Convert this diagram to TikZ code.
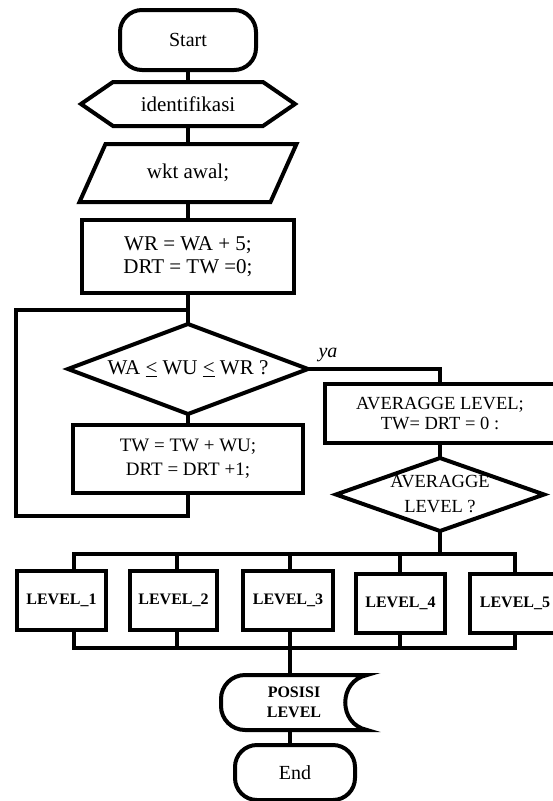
\documentclass[tikz,border=0pt]{standalone}
\usepackage{fontspec}
\setmainfont{Liberation Serif}
\usetikzlibrary{calc, positioning}
\tikzset{>=latex}

\begin{document}
\begin{tikzpicture}[x=1pt, y=1pt]

        % Setup the styles for the symbols
        \tikzset{line style/.style={line width=4pt, draw=black},
                 base style/.style={inner sep=0pt, outer sep=0pt, align=center,
                                    font=\fontsize{21}{23}\selectfont},
                 box style/.style={base style, line style, rectangle},
                 term style/.style={box style, rounded corners=22pt,
                                    font=\fontsize{20}{23}\selectfont},
                 level style/.style={box style, minimum height=59pt,
                                     font=\fontsize{16}{20}\selectfont\bfseries}}

        \useasboundingbox (0, 0) rectangle (552, -801);

        % Draw the symbols
        \node[term style, minimum width=136pt, minimum height=60pt] at (188, -40) (start) {Start};
        \node[base style, minimum width=214pt, minimum height=44pt] at (188, -104) (ident) {identifikasi};
        \node[base style, minimum width=217pt, minimum height=58pt] at (188, -173) (wkt) {wkt awal;};
        \node[box style, minimum width=212pt, minimum height=73pt] at (188, -256.5) (wr) {WR = WA + 5;\\DRT = TW =0;};
        \node[base style, minimum width=240pt, minimum height=90pt] at (188, -369) (cek) {WA \underline{<} WU \underline{<} WR ?};
        \node[box style, minimum width=230pt, minimum height=68pt,
              font=\fontsize{19}{24}\selectfont] at (188, -459) (tw) {TW = TW + WU;\\DRT = DRT +1;};
        \node[inner sep=0pt, font=\fontsize{20}{24}\selectfont\itshape] at (328, -355) (ya) {ya};
        \node[box style, minimum width=230pt, minimum height=59pt,
              font=\fontsize{18.5}{20}\selectfont] at (440, -413.5) (avg) {AVERAGGE LEVEL;\\TW= DRT = 0 :};
        \node[base style, minimum width=208pt, minimum height=73pt,
              font=\fontsize{18.5}{25}\selectfont] at (440, -494.5) (rata) {AVERAGGE\\LEVEL ?};
        \foreach \i/\x/\y/\w in {1/61.5/-600.5/89, 2/173.5/-600.5/87, 3/288/-600.5/90,
                                 4/400.5/-603/89, 5/515/-603/90}
            \node[level style, minimum width=\w pt] at (\x, \y) (lv\i) {LEVEL\_\i};
        \node[base style, minimum width=146pt, minimum height=55pt,
              font=\fontsize{16}{20}\selectfont\bfseries] at (294, -702.5) (posisi) {POSISI\\LEVEL};
        \node[term style, minimum width=120pt, minimum height=55pt] at (295, -772.5) (finish) {End};

        % Outlines of the symbols that are not plain boxes
        \draw[line style] (ident.west) -- ([xshift=32pt]ident.north west) -- ([xshift=-32pt]ident.north east)
            -- (ident.east) -- ([xshift=-32pt]ident.south east) -- ([xshift=32pt]ident.south west) -- cycle;
        \draw[line style] ([xshift=26pt]wkt.north west) -- (wkt.north east)
            -- ([xshift=-26pt]wkt.south east) -- (wkt.south west) -- cycle;
        \draw[line style] (cek.west) -- (cek.north) -- (cek.east) -- (cek.south) -- cycle;
        \draw[line style] (rata.west) -- (rata.north) -- (rata.east) -- (rata.south) -- cycle;
        \draw[line style] (posisi.north) -- ([xshift=24pt]posisi.north west)
            .. controls +(-13.3, 0) and +(0, 13.3) .. ([yshift=-24pt]posisi.north west)
            -- ([yshift=24pt]posisi.south west)
            .. controls +(0, -13.3) and +(-13.3, 0) .. ([xshift=24pt]posisi.south west)
            -- (posisi.south east)
            .. controls +(-29, 6) and +(-29, -6) .. (posisi.north east) -- cycle;

        % Points of the loop and of the two bars
        \coordinate (loopb) at (16, -516);
        \coordinate (loopt) at (16, -310);
        \foreach \i/\x in {1/74, 2/177, 3/290, 4/400, 5/515} {
            \coordinate (bt\i) at (\x, -554);
            \coordinate (bb\i) at (\x, -648);
        }

        % Connect the symbols
        \draw[line style] (start.south) -- (ident.north);
        \draw[line style] (ident.south) -- (wkt.north);
        \draw[line style] (wkt.south) -- (wr.north);
        \draw[line style] (wr.south) -- (cek.north);
        \draw[line style] (cek.south) -- (tw.north);
        \draw[line style] (tw.south) |- (loopb) -- (loopt) -- (loopt -| cek.north);
        \draw[line style] (cek.east) -| (avg.north);
        \draw[line style] (avg.south) -- (rata.north);
        \draw[line style] (rata.south) -- (rata.south |- bt1);
        \draw[line style] (lv1.north -| bt1) -- (bt1) -- (bt5) -- (lv5.north -| bt5);
        \draw[line style] (lv1.south -| bb1) -- (bb1) -- (bb5) -- (lv5.south -| bb5);
        \foreach \i in {2, 3, 4} {
            \draw[line style] (lv\i.north -| bt\i) -- (bt\i);
            \draw[line style] (lv\i.south -| bb\i) -- (bb\i);
        }
        \draw[line style] (bb3) -- (posisi.north -| bb3);
        \draw[line style] (posisi.south -| bb3) -- (finish.north -| bb3);
    \end{tikzpicture}
\end{document}
